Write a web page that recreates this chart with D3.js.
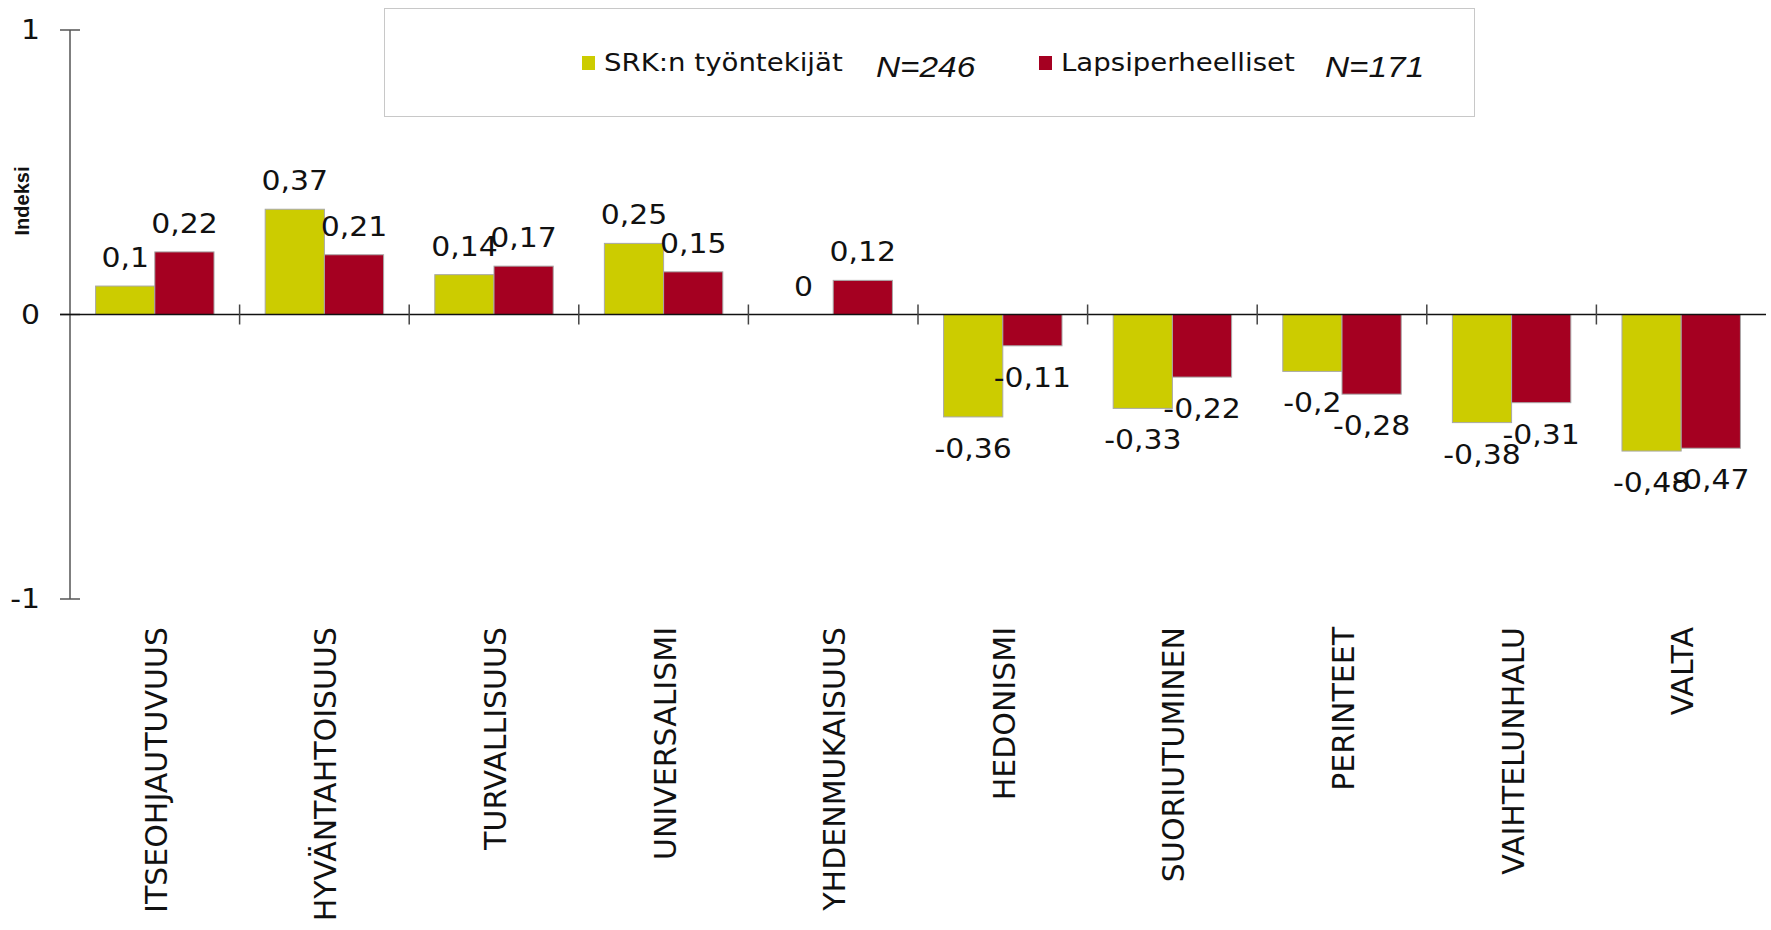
<!DOCTYPE html>
<html>
<head>
<meta charset="utf-8">
<script src="https://cdn.jsdelivr.net/npm/d3@7"></script>
<style>
    body { margin: 0; background: #fff; }
    #chart-svg text { font-family: 'DejaVu Sans', Verdana, sans-serif; fill: #111; }
</style>
</head>
<body>
<div id="chart"></div>
<script>
var categories = ['ITSEOHJAUTUVUUS', 'HYVÄNTAHTOISUUS', 'TURVALLISUUS', 'UNIVERSALISMI',
    'YHDENMUKAISUUS', 'HEDONISMI', 'SUORIUTUMINEN', 'PERINTEET', 'VAIHTELUNHALU', 'VALTA'];
var seriesNames = ['SRK:n työntekijät', 'Lapsiperheelliset'];
var seriesN = ['N=246', 'N=171'];
var srkValues = [0.1, 0.37, 0.14, 0.25, 0, -0.36, -0.33, -0.2, -0.38, -0.48];
var lapsiValues = [0.22, 0.21, 0.17, 0.15, 0.12, -0.11, -0.22, -0.28, -0.31, -0.47];
var yTicks = [-1, 0, 1];
var colors = ['#cccc00', '#a50021'];

var width = 1771, height = 930;
var stretch = 1.15; // text in the picture is a bit wider than tall

var svg = d3.select('#chart')
    .append('svg')
    .attr('id', 'chart-svg')
    .attr('width', width)
    .attr('height', height);

var rows = categories.map(function(c, i) {
    return { category: c, values: [srkValues[i], lapsiValues[i]] };
});

var x = d3.scaleBand()
    .domain(categories)
    .range([70, 1766]);

var x1 = d3.scaleBand()
    .domain(d3.range(seriesNames.length))
    .range([0, x.bandwidth()])
    .paddingOuter(0.432);

var y = d3.scaleLinear()
    .domain([-1, 1])
    .range([599, 30]);

function fmt(v) {
    return String(v).replace('.', ',');
}

// bars
var groups = svg.append('g')
    .selectAll('.cat')
    .data(rows)
    .enter()
    .append('g')
    .attr('transform', function(d) { return 'translate(' + x(d.category) + ',0)'; });

var bars = groups.selectAll('.bar')
    .data(function(d) { return d.values.map(function(v, i) { return { v: v, i: i }; }); })
    .enter();

bars.append('rect')
    .attr('x', function(d) { return x1(d.i); })
    .attr('y', function(d) { return y(Math.max(0, d.v)); })
    .attr('width', x1.bandwidth())
    .attr('height', function(d) { return Math.abs(y(d.v) - y(0)); })
    .attr('fill', function(d) { return colors[d.i]; })
    .attr('stroke', function(d) { return d.v === 0 ? 'none' : '#a8a8a8'; })
    .attr('stroke-width', 1);

bars.append('text')
    .attr('text-anchor', 'middle')
    .attr('font-size', 26)
    .attr('transform', function(d) {
        var cx = x1(d.i) + x1.bandwidth() / 2;
        var ty = d.v >= 0 ? y(d.v) - 19 : y(d.v) + 41;
        return 'translate(' + cx + ',' + ty + ') scale(' + stretch + ',1)';
    })
    .text(function(d) { return fmt(d.v); });

// y axis
svg.append('line')
    .attr('x1', 70).attr('x2', 70)
    .attr('y1', y(1)).attr('y2', y(-1))
    .attr('stroke', '#555')
    .attr('stroke-width', 1.5);

var yAxis = svg.append('g');
yAxis.selectAll('line')
    .data(yTicks)
    .enter()
    .append('line')
    .attr('x1', 60).attr('x2', 80)
    .attr('y1', function(d) { return y(d); })
    .attr('y2', function(d) { return y(d); })
    .attr('stroke', '#555')
    .attr('stroke-width', 1.5);

yAxis.selectAll('text')
    .data(yTicks)
    .enter()
    .append('text')
    .attr('text-anchor', 'end')
    .attr('font-size', 26)
    .attr('dy', '0.36em')
    .attr('transform', function(d) { return 'translate(40,' + y(d) + ') scale(' + stretch + ',1)'; })
    .text(function(d) { return d; });

svg.append('text')
    .attr('text-anchor', 'middle')
    .attr('transform', 'translate(29,201) rotate(-90)')
    .style('font-family', "'Liberation Sans', Arial, sans-serif")
    .style('font-weight', 'bold')
    .attr('font-size', 20)
    .text('Indeksi');

// zero line with category ticks
svg.append('line')
    .attr('x1', 60).attr('x2', 1766)
    .attr('y1', y(0)).attr('y2', y(0))
    .attr('stroke', '#111')
    .attr('stroke-width', 1.5);

svg.append('g')
    .selectAll('line')
    .data(categories.slice(1))
    .enter()
    .append('line')
    .attr('x1', function(d) { return x(d); })
    .attr('x2', function(d) { return x(d); })
    .attr('y1', y(0) - 10)
    .attr('y2', y(0) + 10)
    .attr('stroke', '#444')
    .attr('stroke-width', 1.5);

// category labels
svg.append('g')
    .selectAll('text')
    .data(categories)
    .enter()
    .append('text')
    .attr('text-anchor', 'end')
    .attr('font-size', 30)
    .attr('transform', function(d) {
        return 'translate(' + (x(d) + x.bandwidth() / 2 + 12) + ',627) rotate(-90)';
    })
    .text(function(d) { return d; });

// legend
svg.append('rect')
    .attr('x', 384.5).attr('y', 8.5)
    .attr('width', 1090).attr('height', 108)
    .attr('fill', '#fff')
    .attr('stroke', '#c8c8c8');

var legendX = [582, 1039];
var legendN = [876, 1325];

var legend = svg.append('g')
    .selectAll('g')
    .data(seriesNames)
    .enter()
    .append('g');

legend.append('rect')
    .attr('x', function(d, i) { return legendX[i]; })
    .attr('y', 56)
    .attr('width', 13)
    .attr('height', 14)
    .attr('fill', function(d, i) { return colors[i]; });

legend.append('text')
    .attr('font-size', 24)
    .attr('transform', function(d, i) { return 'translate(' + (legendX[i] + 22) + ',71) scale(' + stretch + ',1)'; })
    .text(function(d) { return d; });

legend.append('text')
    .attr('font-size', 29)
    .style('font-family', "'Liberation Sans', Arial, sans-serif")
    .style('font-style', 'italic')
    .attr('transform', function(d, i) { return 'translate(' + legendN[i] + ',77) scale(' + stretch + ',1)'; })
    .text(function(d, i) { return seriesN[i]; });
</script>
</body>
</html>
